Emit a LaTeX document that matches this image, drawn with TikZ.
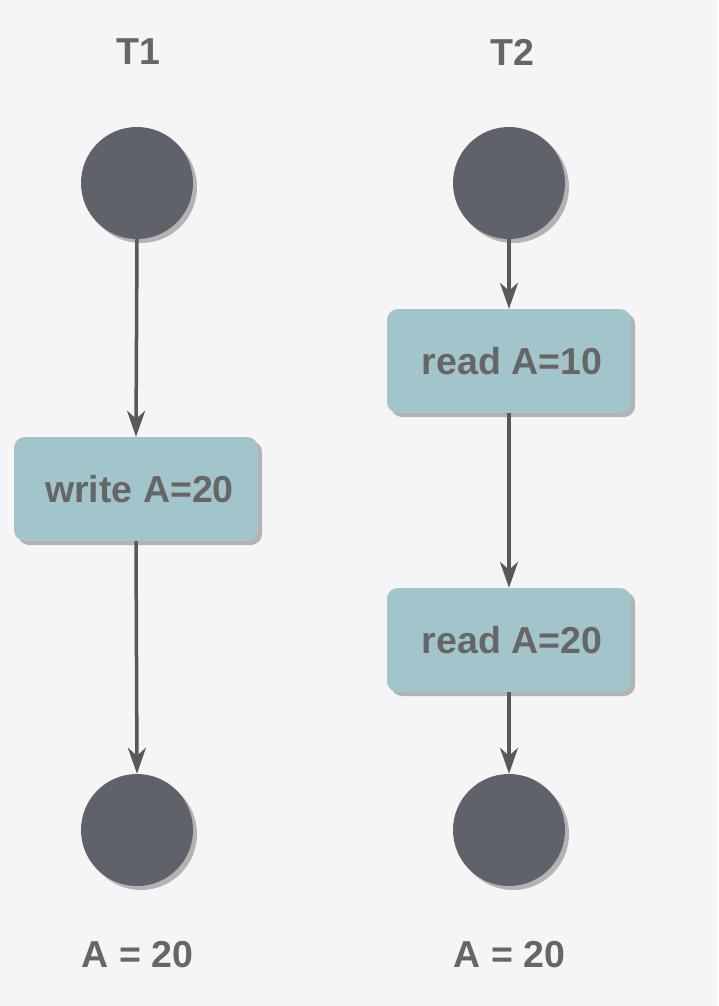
\documentclass[tikz,border=0pt]{standalone}
\usepackage{fontspec}
\setmainfont{Liberation Sans}
\usetikzlibrary{arrows.meta,shadows}
\definecolor{bg}{HTML}{F5F5F5}
\definecolor{dot}{HTML}{5F626A}
\definecolor{boxc}{HTML}{A2C4CB}
\definecolor{txt}{HTML}{666666}
\definecolor{arr}{HTML}{595959}
\definecolor{shd}{HTML}{B3B3B3}
\tikzset{
  every node/.style={font=\fontsize{37.5}{44}\selectfont\bfseries, text=txt},
  endpt/.style={circle, fill=dot, minimum size=112pt, inner sep=0pt,
    drop shadow={shadow xshift=4pt, shadow yshift=-4pt, fill=shd, opacity=1}},
  act/.style={rectangle, rounded corners=11pt, fill=boxc, minimum width=244pt, minimum height=104pt, inner sep=0pt,
    drop shadow={shadow xshift=4pt, shadow yshift=-4pt, fill=shd, opacity=1}},
  lbl/.style={inner sep=0pt},
  flow/.style={draw=arr, line width=3.5pt, -{Stealth[length=26pt,width=18pt,inset=8pt]}}
}
\begin{document}
\begin{tikzpicture}[x=1pt,y=-1pt]
\fill[bg] (0,0) rectangle (718,1006);
\useasboundingbox (0,0) rectangle (718,1006);
\node[lbl] (t1) at (138,52) {T1};
\node[lbl] (t2) at (512,52) {T2};
\node[endpt] (s1) at (137,183) {};
\node[endpt] (s2) at (509,183) {};
\node[act] (w) at (136,489) {\hspace*{7pt}write A=20};
\node[act] (r1) at (509,361) {\hspace*{6pt}read A=10};
\node[act] (r2) at (509,640) {\hspace*{6pt}read A=20};
\node[endpt] (e1) at (137,830) {};
\node[endpt] (e2) at (509,830) {};
\node[lbl] (a1) at (137.5,955) {A = 20};
\node[lbl] (a2) at (509.5,955) {A = 20};
\draw[flow] (s1.south) -- (w.north);
\draw[flow] (w.south) -- (e1.north);
\draw[flow] (s2.south) -- (r1.north);
\draw[flow] (r1.south) -- (r2.north);
\draw[flow] (r2.south) -- (e2.north);
\end{tikzpicture}
\end{document}
